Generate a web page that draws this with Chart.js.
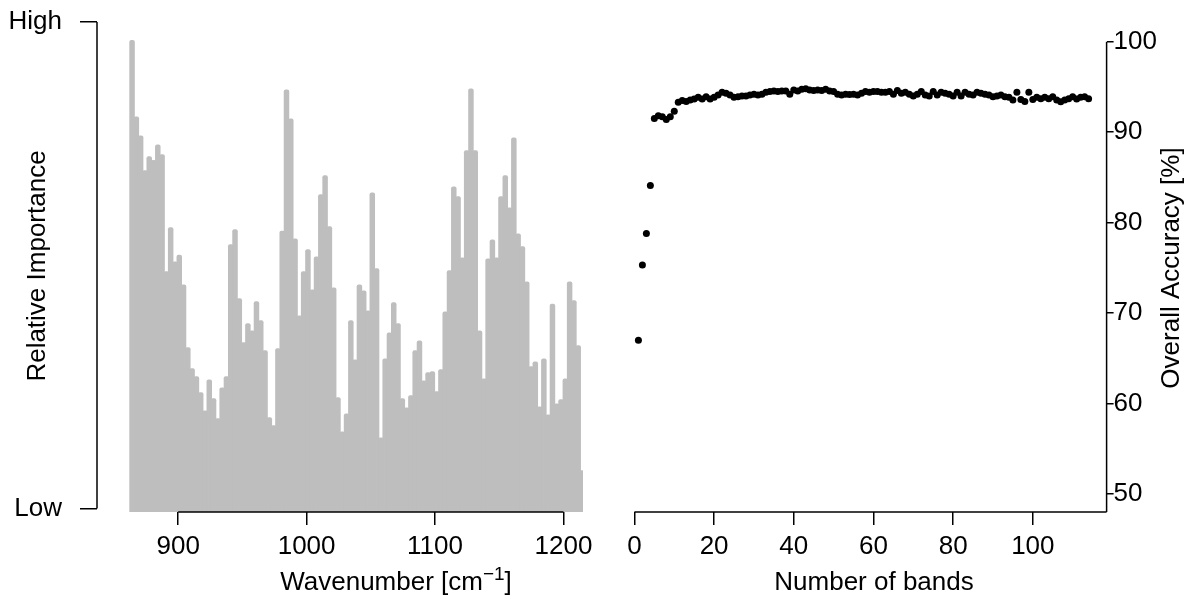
<!DOCTYPE html>
<html>
<head>
<meta charset="utf-8">
<title>Band importance and classification accuracy</title>
<script src="https://cdn.jsdelivr.net/npm/chart.js@4.4.1/dist/chart.umd.min.js"></script>
<style>
  html, body { margin: 0; padding: 0; background: #ffffff; }
  #wrap { position: relative; width: 1190px; height: 600px; }
  #wrap canvas { position: absolute; left: 0; top: 0; }
</style>
</head>
<body>
<div id="wrap">
  <canvas id="importance" width="1190" height="600"></canvas>
  <canvas id="accuracy" width="1190" height="600"></canvas>
</div>
<script>
// ---- Spectral band importance (left panel) ----
const WAVENUMBER_START = 864.1;   // centre of the first band, cm^-1
const WAVENUMBER_STEP = 3.34;     // band spacing, cm^-1
const importance = [
  96.2, 80.6, 76.7, 69.6, 72.5, 71.7, 74.9, 72.9, 49.0, 58.0,
  51.0, 52.4, 46.3, 33.5, 29.2, 27.6, 24.3, 20.6, 26.9, 23.1,
  19.0, 25.3, 27.6, 54.5, 57.6, 43.5, 34.5, 38.4, 36.9, 42.9,
  39.0, 32.9, 19.2, 17.6, 33.3, 57.3, 86.1, 80.2, 55.7, 40.0,
  49.0, 53.5, 45.3, 52.0, 64.7, 68.6, 58.2, 45.7, 23.3, 16.3,
  20.0, 39.0, 31.0, 46.3, 45.1, 41.0, 65.1, 49.6, 15.1, 31.2,
  36.5, 42.7, 38.4, 23.1, 21.2, 23.7, 32.9, 34.9, 26.7, 28.4,
  28.6, 24.5, 29.0, 40.8, 49.2, 66.3, 64.3, 51.8, 73.7, 86.3,
  73.7, 36.9, 27.1, 51.6, 55.5, 51.8, 64.3, 68.6, 62.0, 76.3,
  56.7, 54.1, 46.9, 29.6, 30.6, 21.4, 31.2, 19.8, 42.4, 22.0,
  22.9, 27.1, 46.9, 43.1, 33.9, 8.4
];
const wavenumbers = importance.map((_, i) => WAVENUMBER_START + i * WAVENUMBER_STEP);
const wavenumberTicks = [900, 1000, 1100, 1200];
const importanceTickValues = [0.7, 100];
const importanceTickLabels = ['Low', 'High'];

// ---- Overall accuracy versus number of selected bands (right panel) ----
const bandCounts = Array.from({ length: 114 }, (_, i) => i + 1);
const overallAccuracy = [
  67.0, 75.3, 78.8, 84.1, 91.5, 91.8, 91.7, 91.4, 91.7, 92.3,
  93.3, 93.5, 93.4, 93.55, 93.65, 93.85, 93.65, 93.9, 93.65, 93.85,
  94.1, 94.4, 94.3, 94.1, 93.85, 93.9, 94.0, 94.0, 94.1, 94.2,
  94.1, 94.2, 94.4, 94.5, 94.55, 94.5, 94.55, 94.55, 94.2, 94.65,
  94.55, 94.75, 94.8, 94.65, 94.6, 94.65, 94.6, 94.75, 94.55, 94.5,
  94.2, 94.1, 94.2, 94.15, 94.2, 94.1, 94.3, 94.5, 94.4, 94.5,
  94.5, 94.4, 94.4, 94.5, 94.2, 94.6, 94.3, 94.4, 94.2, 94.0,
  94.2, 94.5, 94.1, 94.0, 94.5, 94.1, 94.4, 94.3, 94.2, 94.0,
  94.4, 94.0, 94.4, 94.2, 94.1, 94.4, 94.3, 94.2, 94.1, 93.9,
  94.0, 94.1, 93.9, 93.85, 93.55, 94.4, 93.6, 93.4, 94.4, 93.6,
  93.85, 93.7, 93.85, 93.7, 93.9, 93.55, 93.35, 93.55, 93.7, 93.9,
  93.65, 93.85, 93.9, 93.7
];
const bandTicks = [0, 20, 40, 60, 80, 100];
const accuracyTicks = [50, 60, 70, 80, 90, 100];

// ---- Shared styling ----
const FAMILY = '"Liberation Sans", Arial, Helvetica, sans-serif';
const FONT_SIZE = 26;
const TEXT_FONT = FONT_SIZE + 'px ' + FAMILY;
const SUP_FONT = '19px ' + FAMILY;
const INK = '#000000';
const AXIS_WIDTH = 1.5;
const BAR_GREY = '#BEBEBE';

const tickFont = { family: FAMILY, size: FONT_SIZE };
const plainNumber = (value) => String(value);
const tickGrid = (len) => ({
  drawOnChartArea: false, drawTicks: true, tickLength: len,
  color: INK, lineWidth: AXIS_WIDTH
});
const fixedTicks = (values) => (scale) => { scale.ticks = values.map(v => ({ value: v })); };
// keep the plot region where the layout puts it, whatever the label sizes
const fixedSize = (prop, size) => (scale) => {
  scale[prop] = size;
  scale.paddingTop = 0; scale.paddingBottom = 0;
  scale.paddingLeft = 0; scale.paddingRight = 0;
};

function strokeSegment(ctx, x1, y1, x2, y2) {
  ctx.beginPath();
  ctx.moveTo(x1, y1);
  ctx.lineTo(x2, y2);
  ctx.stroke();
}

function drawRotatedText(ctx, text, cx, cy) {
  ctx.save();
  ctx.translate(cx, cy);
  ctx.rotate(-Math.PI / 2);
  ctx.font = TEXT_FONT;
  ctx.fillStyle = INK;
  ctx.textAlign = 'center';
  ctx.textBaseline = 'middle';
  ctx.fillText(text, 0, 0);
  ctx.restore();
}

// "Wavenumber [cm^-1]" with a raised exponent
function drawWavenumberTitle(ctx, cx, baseline) {
  const head = 'Wavenumber [cm', sup = '\u22121', tail = ']';
  ctx.save();
  ctx.fillStyle = INK;
  ctx.textAlign = 'left';
  ctx.textBaseline = 'alphabetic';
  ctx.font = TEXT_FONT;
  const w1 = ctx.measureText(head).width;
  const w3 = ctx.measureText(tail).width;
  ctx.font = SUP_FONT;
  const w2 = ctx.measureText(sup).width;
  let x = cx - (w1 + w2 + w3) / 2;
  ctx.font = TEXT_FONT;
  ctx.fillText(head, x, baseline);
  x += w1;
  ctx.font = SUP_FONT;
  ctx.fillText(sup, x, baseline - 10);
  x += w2;
  ctx.font = TEXT_FONT;
  ctx.fillText(tail, x, baseline);
  ctx.restore();
}

// Axis lines drawn only between the outer ticks, plus the panel titles
const importanceDecor = {
  id: 'importanceDecor',
  afterDraw(chart) {
    const { ctx, chartArea } = chart;
    const xs = chart.scales.x, ys = chart.scales.y;
    ctx.save();
    ctx.strokeStyle = INK;
    ctx.lineWidth = AXIS_WIDTH;
    strokeSegment(ctx,
      xs.getPixelForValue(wavenumberTicks[0]), chartArea.bottom,
      xs.getPixelForValue(wavenumberTicks[wavenumberTicks.length - 1]), chartArea.bottom);
    strokeSegment(ctx,
      chartArea.left, ys.getPixelForValue(importanceTickValues[0]),
      chartArea.left, ys.getPixelForValue(importanceTickValues[1]));
    ctx.restore();
    drawRotatedText(ctx, 'Relative Importance', 38, 266);
    drawWavenumberTitle(ctx, 396, 590);
  }
};

const accuracyDecor = {
  id: 'accuracyDecor',
  afterDraw(chart) {
    const { ctx, chartArea } = chart;
    const xs = chart.scales.x, ys = chart.scales.y;
    ctx.save();
    ctx.strokeStyle = INK;
    ctx.lineWidth = AXIS_WIDTH;
    strokeSegment(ctx,
      xs.getPixelForValue(bandTicks[0]), chartArea.bottom,
      chartArea.right, chartArea.bottom);
    strokeSegment(ctx,
      chartArea.right, chartArea.bottom,
      chartArea.right, ys.getPixelForValue(accuracyTicks[accuracyTicks.length - 1]));
    ctx.fillStyle = INK;
    ctx.font = TEXT_FONT;
    ctx.textAlign = 'center';
    ctx.textBaseline = 'alphabetic';
    ctx.fillText('Number of bands', 874, 590);
    ctx.restore();
    drawRotatedText(ctx, 'Overall Accuracy [%]', 1172, 268);
  }
};

// Left panel: importance of each wavenumber band
new Chart(document.getElementById('importance'), {
  type: 'bar',
  data: {
    datasets: [{
      data: wavenumbers.map((w, i) => ({ x: w, y: importance[i] })),
      backgroundColor: BAR_GREY,
      borderWidth: 0,
      borderRadius: 2,
      inflateAmount: 0.6,
      barPercentage: 1,
      categoryPercentage: 1
    }]
  },
  options: {
    responsive: false,
    animation: false,
    devicePixelRatio: 1,
    events: [],
    layout: { padding: { left: 0, right: 607, top: 22, bottom: 0 } },
    plugins: { legend: { display: false }, tooltip: { enabled: false } },
    scales: {
      x: {
        type: 'linear',
        min: 836.8,
        max: 1215.2,
        offset: false,
        afterBuildTicks: fixedTicks(wavenumberTicks),
        afterFit: fixedSize('height', 88),
        grid: Object.assign(tickGrid(13), { offset: false }),
        border: { display: false },
        ticks: { font: tickFont, color: INK, padding: 6, maxRotation: 0, minRotation: 0, autoSkip: false, callback: plainNumber }
      },
      y: {
        type: 'linear',
        min: 0,
        max: 100,
        afterBuildTicks: fixedTicks(importanceTickValues),
        afterFit: fixedSize('width', 97),
        grid: tickGrid(17),
        border: { display: false },
        ticks: {
          font: tickFont, color: INK, padding: 18, autoSkip: false,
          callback: (value, index) => importanceTickLabels[index]
        }
      }
    }
  },
  plugins: [importanceDecor]
});

// Right panel: accuracy as bands are added
new Chart(document.getElementById('accuracy'), {
  type: 'scatter',
  data: {
    datasets: [{
      data: bandCounts.map((n, i) => ({ x: n, y: overallAccuracy[i] })),
      backgroundColor: INK,
      borderWidth: 0,
      pointRadius: 3.5
    }]
  },
  options: {
    responsive: false,
    animation: false,
    devicePixelRatio: 1,
    events: [],
    layout: { padding: { left: 620.4, right: 0, top: 23.6, bottom: 0 } },
    plugins: { legend: { display: false }, tooltip: { enabled: false } },
    scales: {
      x: {
        type: 'linear',
        min: -3.52,
        max: 118.52,
        afterBuildTicks: fixedTicks(bandTicks),
        afterFit: fixedSize('height', 88),
        grid: tickGrid(13),
        border: { display: false },
        ticks: { font: tickFont, color: INK, padding: 6, maxRotation: 0, minRotation: 0, autoSkip: false, callback: plainNumber }
      },
      y: {
        type: 'linear',
        position: 'right',
        min: 48,
        max: 102,
        afterBuildTicks: fixedTicks(accuracyTicks),
        afterFit: fixedSize('width', 83.4),
        grid: tickGrid(7),
        border: { display: false },
        ticks: { font: tickFont, color: INK, padding: 0, autoSkip: false, callback: plainNumber }
      }
    }
  },
  plugins: [accuracyDecor]
});
</script>
</body>
</html>
